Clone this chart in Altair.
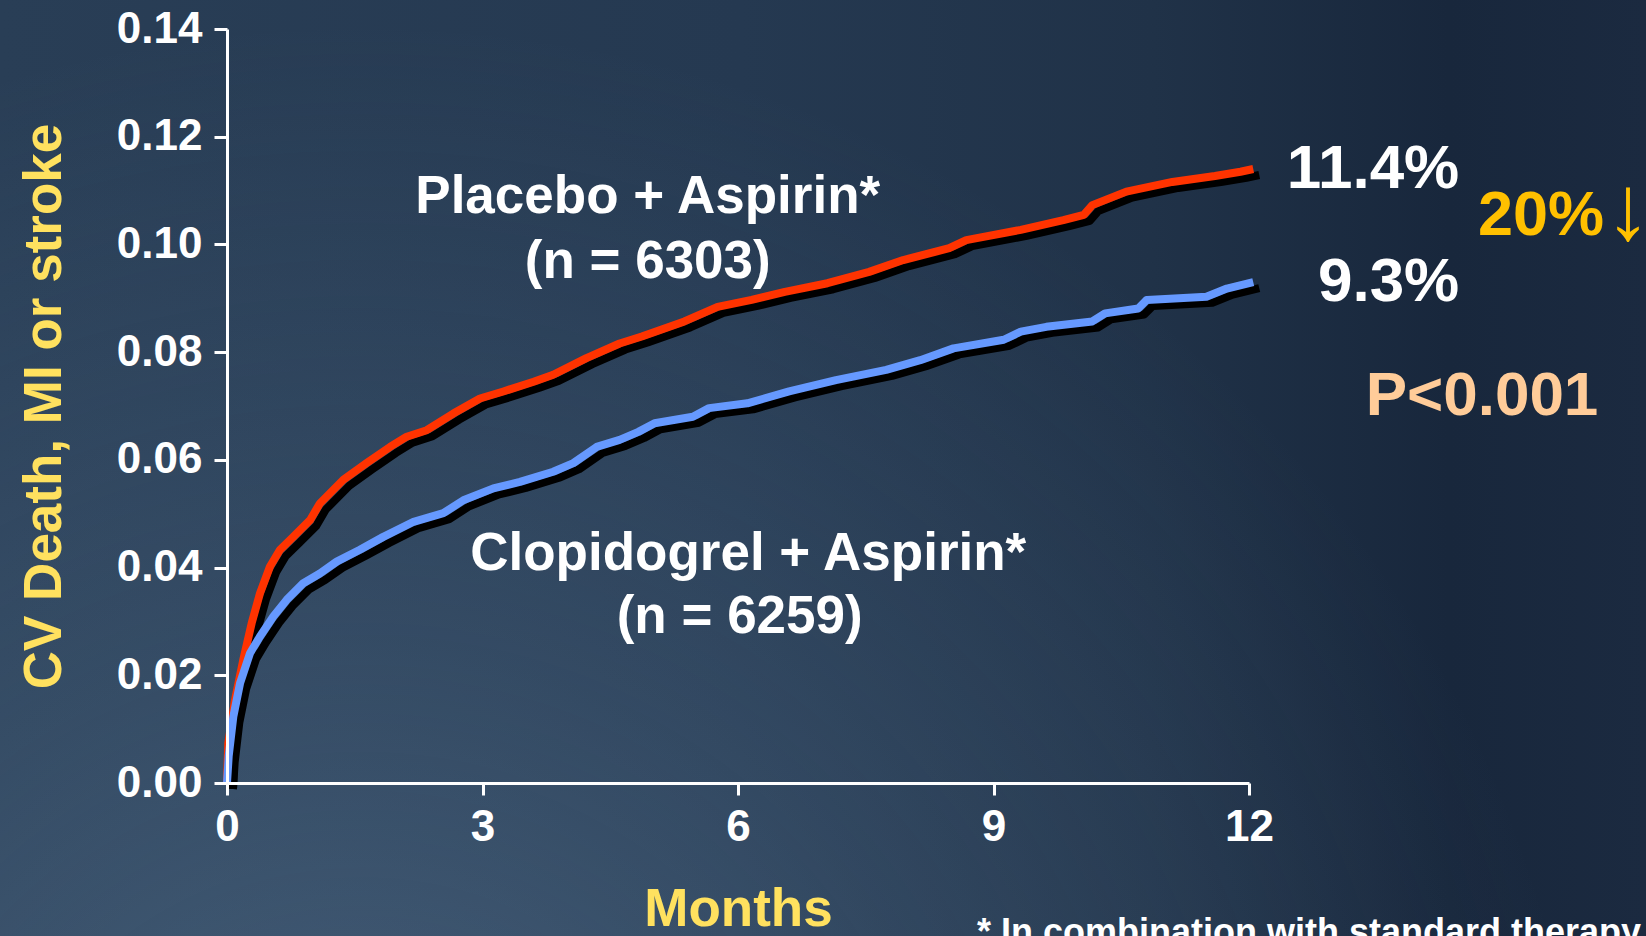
import altair as alt
import pandas as pd

# Cumulative event rate (CV death, MI or stroke) by month of follow-up
placebo_months = [0.0, 0.015, 0.094, 0.19, 0.29, 0.387, 0.505, 0.622, 0.778, 0.975,
                  1.09, 1.366, 1.64, 1.914, 2.11, 2.345, 2.657, 2.97, 3.244, 3.6,
                  3.83, 4.22, 4.61, 4.87, 5.37, 5.76, 6.16, 6.55, 7.05, 7.54,
                  7.94, 8.48, 8.68, 9.32, 9.82, 10.06, 10.16, 10.56, 11.1, 11.6,
                  11.9, 12.05]
placebo_rate = [0.0, 0.0074, 0.0154, 0.0228, 0.0297, 0.0352, 0.0402, 0.0433, 0.0457, 0.0488,
                0.0519, 0.0563, 0.0594, 0.0624, 0.0643, 0.0655, 0.0686, 0.0714, 0.0727, 0.0745,
                0.0758, 0.0789, 0.0816, 0.0829, 0.0857, 0.0884, 0.0897, 0.0912, 0.0928, 0.0949,
                0.0971, 0.0993, 0.1008, 0.1027, 0.1045, 0.1055, 0.1073, 0.1098, 0.1116, 0.1127,
                0.1135, 0.114]

clopidogrel_months = [0.0, 0.02, 0.074, 0.153, 0.27, 0.387, 0.544, 0.70, 0.896, 1.09,
                      1.288, 1.56, 1.835, 2.19, 2.54, 2.775, 3.127, 3.44, 3.83, 4.066,
                      4.34, 4.61, 4.83, 5.02, 5.47, 5.66, 6.11, 6.6, 7.15, 7.74,
                      8.14, 8.53, 9.12, 9.32, 9.62, 10.16, 10.31, 10.7, 10.8, 11.5,
                      11.74, 12.05]
clopidogrel_rate = [0.0, 0.005, 0.0123, 0.0185, 0.0241, 0.0272, 0.0309, 0.034, 0.0371, 0.0389,
                    0.0411, 0.0433, 0.0457, 0.0485, 0.0501, 0.0525, 0.0547, 0.0559, 0.0578, 0.0594,
                    0.0624, 0.0637, 0.0652, 0.0668, 0.068, 0.0696, 0.0705, 0.0727, 0.0748, 0.0767,
                    0.0785, 0.0807, 0.0823, 0.0838, 0.0847, 0.0857, 0.0872, 0.0881, 0.0897, 0.0903,
                    0.0918, 0.093]

x_ticks = [0, 3, 6, 9, 12]
y_ticks = [0.00, 0.02, 0.04, 0.06, 0.08, 0.10, 0.12, 0.14]

# Plot area and outer padding (total canvas 1646 x 936)
W, H = 1022, 754
PAD = {"left": 227, "top": 29, "right": 397, "bottom": 153}

FONT = "Liberation Sans"
RED = "#FF3300"
BLUE = "#6699FF"
YELLOW = "#FFE15F"
GOLD = "#FFC000"
PEACH = "#FFCC99"

placebo = pd.DataFrame({"month": placebo_months, "value": placebo_rate})
clopi = pd.DataFrame({"month": clopidogrel_months, "value": clopidogrel_rate})

x_scale = alt.Scale(domain=[0, 12], nice=False, zero=False)
y_scale = alt.Scale(domain=[0, 0.14], nice=False)

x_axis = alt.Axis(values=x_ticks, title="Months", labelFlush=False, labelOverlap=False,
                  tickSize=12, labelPadding=10, titleY=142, titleBaseline="alphabetic",
                  zindex=1)
y_axis = alt.Axis(values=y_ticks, format=".2f", title="CV Death, MI or stroke",
                  labelOverlap=False, tickSize=13, labelPadding=12,
                  titleX=-167, titleY=H / 2, titleAngle=270, titleAlign="center",
                  titleBaseline="alphabetic", zindex=1)


def enc(xf="month", yf="value"):
    return dict(x=alt.X(f"{xf}:Q", scale=x_scale, axis=x_axis),
                y=alt.Y(f"{yf}:Q", scale=y_scale, axis=y_axis))


one_row = pd.DataFrame({"k": [0]})
canvas = dict(x=alt.value(-PAD["left"]), x2=alt.value(W + PAD["right"]),
              y=alt.value(-PAD["top"]), y2=alt.value(H + PAD["bottom"]))

# Slide background: horizontal dark-navy gradient plus a soft glow at lower left
bg_base = alt.Chart(one_row).mark_rect(
    fill=alt.Gradient(gradient="linear", x1=0, y1=0, x2=1, y2=0,
                      stops=[alt.GradientStop(offset=0, color="#293e56"),
                             alt.GradientStop(offset=0.45, color="#253951"),
                             alt.GradientStop(offset=0.7, color="#203248"),
                             alt.GradientStop(offset=0.88, color="#18273c"),
                             alt.GradientStop(offset=1, color="#1b2a40")])
).encode(**canvas)

bg_glow = alt.Chart(one_row).mark_rect(
    fill=alt.Gradient(gradient="radial", x1=0.22, y1=0.98, r1=0, x2=0.22, y2=0.98, r2=0.75,
                      stops=[alt.GradientStop(offset=0, color="rgba(106,138,168,0.45)"),
                             alt.GradientStop(offset=0.5, color="rgba(106,138,168,0.2)"),
                             alt.GradientStop(offset=1, color="rgba(106,138,168,0)")])
).encode(**canvas)

# Drop shadow offset of about 6 px, expressed in data units
shift_x = 6 * 12 / W
shift_y = 6 * 0.14 / H


def curve(df, color):
    shadow = alt.Chart(df).transform_calculate(
        sm=f"datum.month + {shift_x}", sv=f"datum.value - {shift_y}"
    ).mark_line(color="black", strokeWidth=8, strokeJoin="round").encode(**enc("sm", "sv"))
    line = alt.Chart(df).mark_line(color=color, strokeWidth=8, strokeJoin="round").encode(**enc())
    return shadow + line


# Group labels anchored in data coordinates
group_labels = pd.DataFrame({
    "month": [4.94, 4.94, 6.12, 6.02],
    "value": [0.1058, 0.0938, 0.0396, 0.0279],
    "label": ["Placebo + Aspirin*", "(n = 6303)", "Clopidogrel + Aspirin*", "(n = 6259)"],
})
groups = alt.Chart(group_labels).mark_text(
    font=FONT, fontWeight="bold", fontSize=53, color="white", align="center",
    baseline="alphabetic"
).encode(text="label:N", **enc())

# End-of-follow-up rates, written from the final value of each curve
ends = pd.DataFrame({
    "month": [placebo_months[-1], clopidogrel_months[-1]],
    "value": [placebo_rate[-1], clopidogrel_rate[-1]],
})
ends["label"] = [f"{v * 100:.1f}%" for v in ends["value"]]
end_text = alt.Chart(ends).mark_text(
    font=FONT, fontWeight="bold", fontSize=62, color="white", align="right",
    baseline="middle", dx=206
).encode(text="label:N", **enc())

rr = pd.DataFrame({"month": [12], "value": [0.1053], "label": ["20%"]})
rr_text = alt.Chart(rr).mark_text(
    font=FONT, fontWeight="bold", fontSize=63, color=GOLD, align="left",
    baseline="middle", dx=229
).encode(text="label:N", **enc())
rr_arrow = alt.Chart(rr.assign(label="↓")).mark_text(
    font=FONT, fontWeight="normal", fontSize=92, color=GOLD, align="left",
    baseline="middle", dx=356, dy=-5
).encode(text="label:N", **enc())

pval = pd.DataFrame({"month": [12], "value": [0.0719], "label": ["P<0.001"]})
p_text = alt.Chart(pval).mark_text(
    font=FONT, fontWeight="bold", fontSize=62, color=PEACH, align="center",
    baseline="middle", dx=233
).encode(text="label:N", **enc())

footnote = alt.Chart(pd.DataFrame({"label": ["* In combination with standard therapy"]})).mark_text(
    font=FONT, fontWeight="bold", fontSize=36, color="white", align="left",
    baseline="alphabetic"
).encode(text="label:N", x=alt.value(750), y=alt.value(915))

chart = alt.layer(
    bg_base, bg_glow,
    curve(placebo, RED), curve(clopi, BLUE),
    groups, end_text, rr_text, rr_arrow, p_text, footnote,
).properties(
    width=W, height=H,
    padding=PAD,
    autosize=alt.AutoSizeParams(type="none"),
    background="#24374e",
).configure_view(stroke=None).configure_axis(
    grid=False,
    domainColor="white", domainWidth=3,
    tickColor="white", tickWidth=3,
    labelFont=FONT, labelFontWeight="bold", labelFontSize=44, labelColor="white",
    titleFont=FONT, titleFontWeight="bold", titleFontSize=53, titleColor=YELLOW,
)

chart.save("out.html", embed_options={"renderer": "svg", "actions": False})
